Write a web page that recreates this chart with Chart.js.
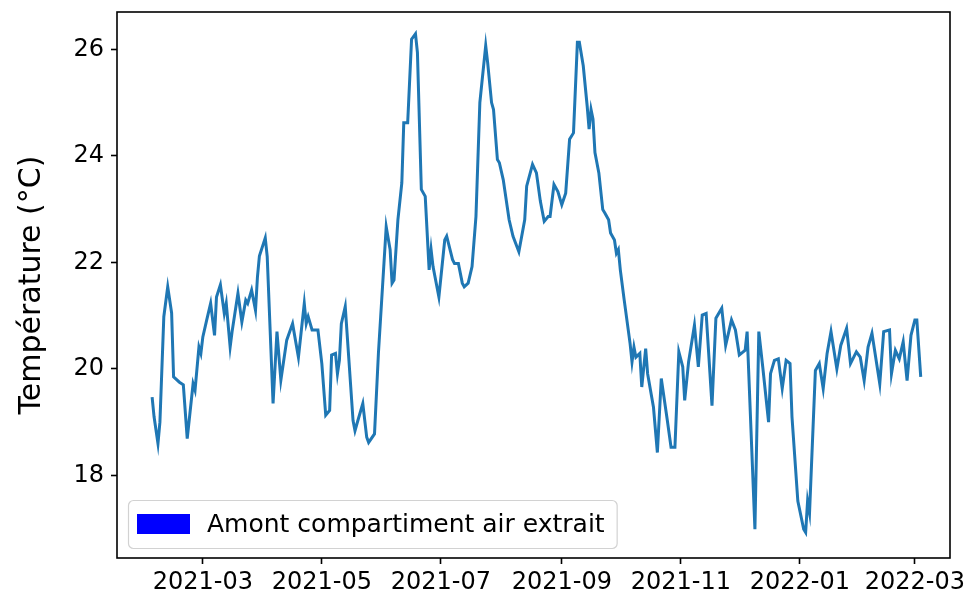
<!DOCTYPE html>
<html lang="fr">
<head>
<meta charset="utf-8">
<title>Température - Amont compartiment air extrait</title>
<script src="https://cdn.jsdelivr.net/npm/chart.js@4.4.1/dist/chart.umd.min.js"></script>
<style>
    html, body { margin: 0; padding: 0; background: #ffffff; }
    #wrap { width: 979px; height: 607px; }
</style>
</head>
<body>
<div id="wrap"><canvas id="temperatureChart" width="979" height="607"></canvas></div>
<script>
// Daily readings
const dates = [
    '2021-02-03','2021-02-04','2021-02-06','2021-02-07','2021-02-09','2021-02-11','2021-02-13','2021-02-14','2021-02-17','2021-02-19',
    '2021-02-21','2021-02-24','2021-02-25','2021-02-27','2021-02-28',
    '2021-03-01','2021-03-03','2021-03-05','2021-03-07','2021-03-08','2021-03-10','2021-03-12','2021-03-13','2021-03-15','2021-03-16',
    '2021-03-19','2021-03-21','2021-03-23','2021-03-24','2021-03-26','2021-03-28','2021-03-29','2021-03-30',
    '2021-04-02','2021-04-03','2021-04-06','2021-04-08','2021-04-10','2021-04-11','2021-04-13','2021-04-16','2021-04-19','2021-04-22',
    '2021-04-23','2021-04-24','2021-04-26','2021-04-29',
    '2021-05-01','2021-05-03','2021-05-05','2021-05-06','2021-05-08','2021-05-09','2021-05-10','2021-05-11','2021-05-13','2021-05-17',
    '2021-05-18','2021-05-19','2021-05-22','2021-05-24','2021-05-25','2021-05-28','2021-05-30',
    '2021-06-03','2021-06-05','2021-06-06','2021-06-07','2021-06-09','2021-06-11','2021-06-12','2021-06-14','2021-06-16','2021-06-18',
    '2021-06-19','2021-06-21','2021-06-23','2021-06-25','2021-06-26','2021-06-27','2021-06-30',
    '2021-07-03','2021-07-04','2021-07-07','2021-07-08','2021-07-10','2021-07-12','2021-07-13','2021-07-15','2021-07-17','2021-07-19',
    '2021-07-21','2021-07-24','2021-07-25','2021-07-27','2021-07-28','2021-07-30','2021-07-31',
    '2021-08-02','2021-08-05','2021-08-07','2021-08-10','2021-08-13','2021-08-14','2021-08-17','2021-08-19','2021-08-21','2021-08-22',
    '2021-08-23','2021-08-25','2021-08-26','2021-08-28','2021-08-30',
    '2021-09-01','2021-09-03','2021-09-05','2021-09-07','2021-09-09','2021-09-10','2021-09-12','2021-09-14','2021-09-15','2021-09-16',
    '2021-09-17','2021-09-18','2021-09-20','2021-09-22','2021-09-23','2021-09-25','2021-09-26','2021-09-28','2021-09-29','2021-09-30',
    '2021-10-01','2021-10-03','2021-10-06','2021-10-07','2021-10-08','2021-10-09','2021-10-11','2021-10-12','2021-10-14','2021-10-15',
    '2021-10-18','2021-10-20','2021-10-22','2021-10-25','2021-10-27','2021-10-29','2021-10-31',
    '2021-11-02','2021-11-03','2021-11-05','2021-11-08','2021-11-10','2021-11-12','2021-11-14','2021-11-17','2021-11-19','2021-11-22',
    '2021-11-24','2021-11-27','2021-11-29',
    '2021-12-01','2021-12-04','2021-12-05','2021-12-09','2021-12-11','2021-12-13','2021-12-16','2021-12-17','2021-12-19','2021-12-21',
    '2021-12-23','2021-12-25','2021-12-27','2021-12-28','2021-12-31',
    '2022-01-03','2022-01-04','2022-01-05','2022-01-06','2022-01-09','2022-01-11','2022-01-13','2022-01-15','2022-01-17','2022-01-20',
    '2022-01-22','2022-01-25','2022-01-27','2022-01-30',
    '2022-02-01','2022-02-03','2022-02-05','2022-02-07','2022-02-11','2022-02-13','2022-02-16','2022-02-17','2022-02-19','2022-02-21',
    '2022-02-23','2022-02-25','2022-02-27',
    '2022-03-01','2022-03-02','2022-03-04'
];

const temperatures = [
    19.47, 19.1, 18.6, 19.0, 20.98, 21.54, 21.05, 19.85, 19.75, 19.7, 18.69, 19.72, 19.6, 20.41, 20.29,
    20.6, 20.92, 21.23, 20.63, 21.35, 21.58, 21.04, 21.23, 20.41, 20.7, 21.42, 20.88, 21.29, 21.23, 21.48, 21.1, 21.73, 22.12,
    22.46, 22.11, 19.35, 20.7, 19.79, 20.04, 20.54, 20.85, 20.22, 21.23, 20.85, 20.98, 20.73, 20.73,
    20.1, 19.13, 19.22, 20.26, 20.29, 19.91, 20.16, 20.85, 21.17, 19.03, 18.84, 18.97, 19.35, 18.72, 18.62, 18.78, 20.29,
    22.67, 22.24, 21.61, 21.67, 22.8, 23.49, 24.62, 24.62, 26.19, 26.29, 25.94, 23.37, 23.24, 21.86, 22.24, 21.92, 21.35,
    22.42, 22.49, 22.05, 21.98, 21.98, 21.61, 21.54, 21.61, 21.92, 22.86, 25.0, 26.07, 25.75, 25.0, 24.87, 23.93, 23.87,
    23.55, 22.8, 22.49, 22.2, 22.8, 23.43, 23.84, 23.68, 23.15, 22.96, 22.77, 22.86, 22.86, 23.46, 23.33,
    23.08, 23.3, 24.31, 24.43, 26.13, 26.13, 25.69, 24.94, 24.5, 24.87, 24.69, 24.06, 23.68, 22.99, 22.93, 22.8, 22.55, 22.42, 22.17, 22.24,
    21.86, 21.29, 20.48, 20.13, 20.41, 20.22, 20.29, 19.66, 20.38, 19.91, 19.28, 18.43, 19.82, 19.06, 18.53, 18.53, 20.32,
    20.04, 19.41, 20.13, 20.82, 20.04, 21.01, 21.04, 19.31, 20.95, 21.14, 20.44, 20.92, 20.73,
    20.26, 20.35, 20.7, 16.99, 20.7, 20.04, 19.0, 19.91, 20.16, 20.19, 19.63, 20.16, 20.1, 19.1, 17.52,
    16.99, 16.93, 17.52, 17.3, 19.97, 20.1, 19.63, 20.29, 20.7, 20.0, 20.44, 20.76, 20.1, 20.32,
    20.22, 19.78, 20.41, 20.67, 19.72, 20.7, 20.73, 19.91, 20.35, 20.19, 20.51, 19.78, 20.63,
    20.92, 20.92, 19.85
];

const xTickLabels = ['2021-03', '2021-05', '2021-07', '2021-09', '2021-11', '2022-01', '2022-03'];
const yTicks = [18, 20, 22, 24, 26];
const xLimits = ['2021-01-16', '2022-03-19'];
const yLimits = [16.45, 26.7];

const seriesLabel = 'Amont compartiment air extrait';
const yAxisTitle = 'Température (°C)';
const lineColor = '#1f77b4';
const legendColor = '#0000ff';
const FONT = '"DejaVu Sans", Verdana, sans-serif';

// days since 2021-03-01 (no date adapter available, so x is a plain number)
function dayOf(str) {
    const [y, m, d] = str.split('-').map(Number);
    return (Date.UTC(y, m - 1, d || 1) - Date.UTC(2021, 2, 1)) / 86400000;
}

const xTickValues = xTickLabels.map(dayOf);

// black frame all round the plot, like matplotlib spines
const frame = {
    id: 'frame',
    afterDraw(chart) {
        const {ctx, chartArea: a} = chart;
        ctx.save();
        ctx.strokeStyle = '#000';
        ctx.lineWidth = 1.6;
        ctx.strokeRect(a.left, a.top, a.right - a.left, a.bottom - a.top);
        ctx.restore();
    }
};

// legend sits inside the plot, bottom left
const insideLegend = {
    id: 'insideLegend',
    afterDraw(chart) {
        const {ctx, chartArea: a} = chart;
        const label = chart.data.datasets[0].label;
        ctx.save();
        ctx.font = '25px ' + FONT;
        const textW = ctx.measureText(label).width;
        const h = 48;
        const x = a.left + 11;
        const y = a.bottom - 10 - h;
        const w = 9 + 53 + 17 + textW + 12;
        ctx.beginPath();
        ctx.roundRect(x + 0.5, y + 0.5, w, h, 5);
        ctx.fillStyle = 'rgba(255,255,255,0.8)';
        ctx.fill();
        ctx.strokeStyle = '#d2d2d2';
        ctx.lineWidth = 1.2;
        ctx.stroke();
        ctx.fillStyle = legendColor;
        ctx.fillRect(x + 9, y + 14, 53, 20);
        ctx.fillStyle = '#000';
        ctx.textBaseline = 'middle';
        ctx.fillText(label, x + 79, y + h / 2 + 1);
        ctx.restore();
    }
};

// stop the axes from reserving room for half a label past each end
function noEdgePadding(s) {
    s.paddingTop = 0;
    s.paddingBottom = 0;
    s.paddingLeft = 0;
    s.paddingRight = 0;
}

function renderChart() {
    const ctx = document.getElementById('temperatureChart');
    const points = dates.map((d, i) => ({x: dayOf(d), y: temperatures[i]}));
    const labelByDay = {};
    xTickLabels.forEach((l, i) => { labelByDay[xTickValues[i]] = l; });

    Chart.defaults.font.family = FONT;
    Chart.defaults.color = '#000';

    const tickGrid = {
        drawOnChartArea: false,
        drawTicks: true,
        tickLength: 6,
        tickWidth: 1.6,
        tickColor: '#000'
    };

    return new Chart(ctx, {
        type: 'line',
        data: {
            datasets: [{
                label: seriesLabel,
                data: points,
                borderColor: lineColor,
                borderWidth: 3,
                pointRadius: 0,
                tension: 0,
                fill: false
            }]
        },
        options: {
            responsive: false,
            animation: false,
            layout: { padding: { left: 0, right: 29, top: 12, bottom: 0 } },
            plugins: {
                legend: { display: false },
                tooltip: { enabled: false }
            },
            scales: {
                x: {
                    type: 'linear',
                    min: dayOf(xLimits[0]),
                    max: dayOf(xLimits[1]),
                    afterBuildTicks: s => { s.ticks = xTickValues.map(v => ({value: v})); },
                    afterFit: s => { s.height = 49; noEdgePadding(s); },
                    grid: tickGrid,
                    border: { display: false },
                    ticks: {
                        autoSkip: false,
                        maxRotation: 0,
                        padding: 4,
                        font: { size: 24 },
                        callback: v => labelByDay[v]
                    }
                },
                y: {
                    type: 'linear',
                    min: yLimits[0],
                    max: yLimits[1],
                    afterBuildTicks: s => { s.ticks = yTicks.map(v => ({value: v})); },
                    afterFit: s => { s.width = 117; noEdgePadding(s); },
                    grid: tickGrid,
                    border: { display: false },
                    ticks: {
                        padding: 7,
                        font: { size: 24 },
                        callback: v => String(v)
                    },
                    title: {
                        display: true,
                        text: yAxisTitle,
                        font: { size: 30 },
                        padding: { top: 14, bottom: 0 }
                    }
                }
            }
        },
        plugins: [frame, insideLegend]
    });
}

window.temperatureChart = renderChart();
</script>
</body>
</html>
